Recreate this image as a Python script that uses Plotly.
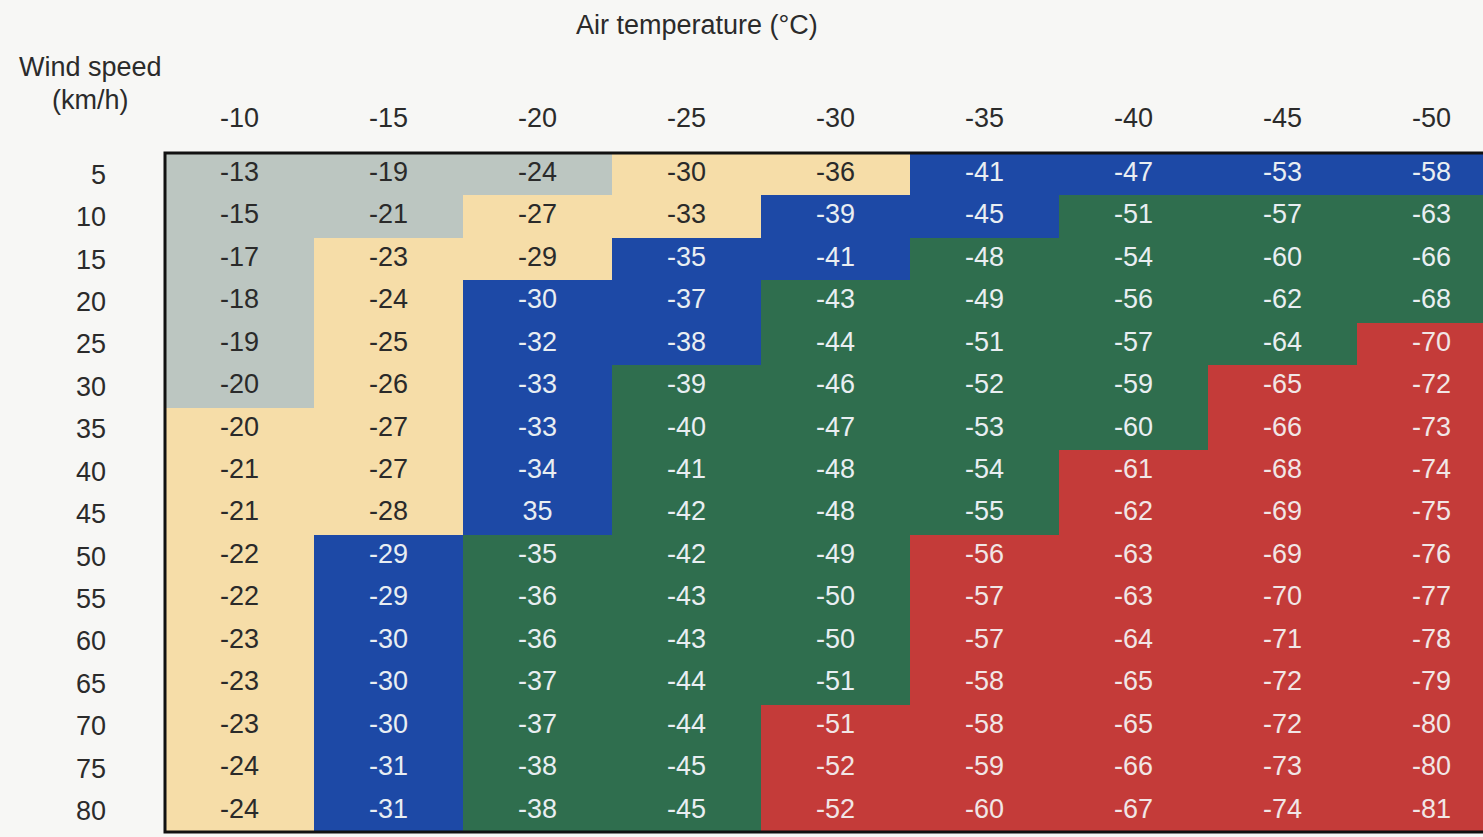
import plotly.graph_objects as go

air_temps = ["-10", "-15", "-20", "-25", "-30", "-35", "-40", "-45", "-50"]
wind_speeds = ["5", "10", "15", "20", "25", "30", "35", "40", "45", "50",
               "55", "60", "65", "70", "75", "80"]

chill = [
    ["-13", "-19", "-24", "-30", "-36", "-41", "-47", "-53", "-58"],
    ["-15", "-21", "-27", "-33", "-39", "-45", "-51", "-57", "-63"],
    ["-17", "-23", "-29", "-35", "-41", "-48", "-54", "-60", "-66"],
    ["-18", "-24", "-30", "-37", "-43", "-49", "-56", "-62", "-68"],
    ["-19", "-25", "-32", "-38", "-44", "-51", "-57", "-64", "-70"],
    ["-20", "-26", "-33", "-39", "-46", "-52", "-59", "-65", "-72"],
    ["-20", "-27", "-33", "-40", "-47", "-53", "-60", "-66", "-73"],
    ["-21", "-27", "-34", "-41", "-48", "-54", "-61", "-68", "-74"],
    ["-21", "-28", "35", "-42", "-48", "-55", "-62", "-69", "-75"],
    ["-22", "-29", "-35", "-42", "-49", "-56", "-63", "-69", "-76"],
    ["-22", "-29", "-36", "-43", "-50", "-57", "-63", "-70", "-77"],
    ["-23", "-30", "-36", "-43", "-50", "-57", "-64", "-71", "-78"],
    ["-23", "-30", "-37", "-44", "-51", "-58", "-65", "-72", "-79"],
    ["-23", "-30", "-37", "-44", "-51", "-58", "-65", "-72", "-80"],
    ["-24", "-31", "-38", "-45", "-52", "-59", "-66", "-73", "-80"],
    ["-24", "-31", "-38", "-45", "-52", "-60", "-67", "-74", "-81"],
]

# risk band per cell: 0 grey, 1 tan, 2 blue, 3 green, 4 red
band = [
    [0, 0, 0, 1, 1, 2, 2, 2, 2],
    [0, 0, 1, 1, 2, 2, 3, 3, 3],
    [0, 1, 1, 2, 2, 3, 3, 3, 3],
    [0, 1, 2, 2, 3, 3, 3, 3, 3],
    [0, 1, 2, 2, 3, 3, 3, 3, 4],
    [0, 1, 2, 3, 3, 3, 3, 4, 4],
    [1, 1, 2, 3, 3, 3, 3, 4, 4],
    [1, 1, 2, 3, 3, 3, 4, 4, 4],
    [1, 1, 2, 3, 3, 3, 4, 4, 4],
    [1, 2, 3, 3, 3, 4, 4, 4, 4],
    [1, 2, 3, 3, 3, 4, 4, 4, 4],
    [1, 2, 3, 3, 3, 4, 4, 4, 4],
    [1, 2, 3, 3, 3, 4, 4, 4, 4],
    [1, 2, 3, 3, 4, 4, 4, 4, 4],
    [1, 2, 3, 3, 4, 4, 4, 4, 4],
    [1, 2, 3, 3, 4, 4, 4, 4, 4],
]

band_colors = ["#bcc6c1", "#f6dda8", "#1d49a6", "#2f6e4e", "#c43b39"]
text_colors = ["#2a2a2a", "#2a2a2a", "#e9eef2", "#e9eef2", "#f1e6e6"]

W, H = 1483, 837
L, T, B = 165, 153, 5
col_w = 149
ncol, nrow = len(air_temps), len(wind_speeds)
plot_w = W - L
x_hi = -0.5 + plot_w / col_w

xi = list(range(ncol))
yi = list(range(nrow))

n = len(band_colors)
cscale = []
for k, c in enumerate(band_colors):
    cscale.append([k / n, c])
    cscale.append([(k + 1) / n, c])

fig = go.Figure()
fig.add_trace(go.Heatmap(
    z=band, x=xi, y=yi, colorscale=cscale, zmin=-0.5, zmax=n - 0.5,
    showscale=False, hoverinfo="skip",
))

tx, ty, tt, tc = [], [], [], []
for r in range(nrow):
    for c in range(ncol):
        tx.append(c)
        ty.append(r)
        tt.append(chill[r][c])
        tc.append(text_colors[band[r][c]])

fig.add_trace(go.Scatter(
    x=tx, y=ty, text=tt, mode="text",
    textfont=dict(family="Liberation Sans, Arial, sans-serif", size=27, color=tc),
    hoverinfo="skip", showlegend=False,
))

font = dict(family="Liberation Sans, Arial, sans-serif", size=27, color="#2b2b2b")

fig.update_layout(
    width=W, height=H,
    margin=dict(l=L, r=0, t=T, b=B),
    paper_bgcolor="#f7f7f5", plot_bgcolor="#f7f7f5",
    font=font,
    showlegend=False,
    xaxis=dict(
        range=[-0.5, x_hi], side="top", tickmode="array",
        tickvals=xi, ticktext=air_temps, ticks="", showgrid=False,
        zeroline=False, showline=False, ticklabelstandoff=20,
        fixedrange=True,
    ),
    yaxis=dict(
        range=[nrow - 0.5, -0.5], tickmode="array", tickvals=yi,
        ticktext=wind_speeds, ticks="", showgrid=False, zeroline=False,
        showline=False, ticklabelstandoff=58, fixedrange=True,
    ),
    annotations=[
        dict(text="Air temperature (°C)", xref="paper", yref="paper",
             x=(697 - L) / plot_w, y=1 + (T - 25) / (H - T - B),
             showarrow=False, xanchor="center", yanchor="middle", font=font),
        dict(text="Wind speed", xref="paper", yref="paper",
             x=(90 - L) / plot_w, y=1 + (T - 67) / (H - T - B),
             showarrow=False, xanchor="center", yanchor="middle", font=font),
        dict(text="(km/h)", xref="paper", yref="paper",
             x=(90 - L) / plot_w, y=1 + (T - 100) / (H - T - B),
             showarrow=False, xanchor="center", yanchor="middle", font=font),
    ],
    shapes=[
        dict(type="rect", xref="paper", yref="paper", x0=0, x1=1.05, y0=0, y1=1,
             line=dict(color="#111111", width=3), fillcolor="rgba(0,0,0,0)"),
    ],
)

fig.write_html(
    "out.html",
    config={"displayModeBar": False},
    post_script="document.body.style.margin='0';document.body.style.overflow='hidden';",
)
